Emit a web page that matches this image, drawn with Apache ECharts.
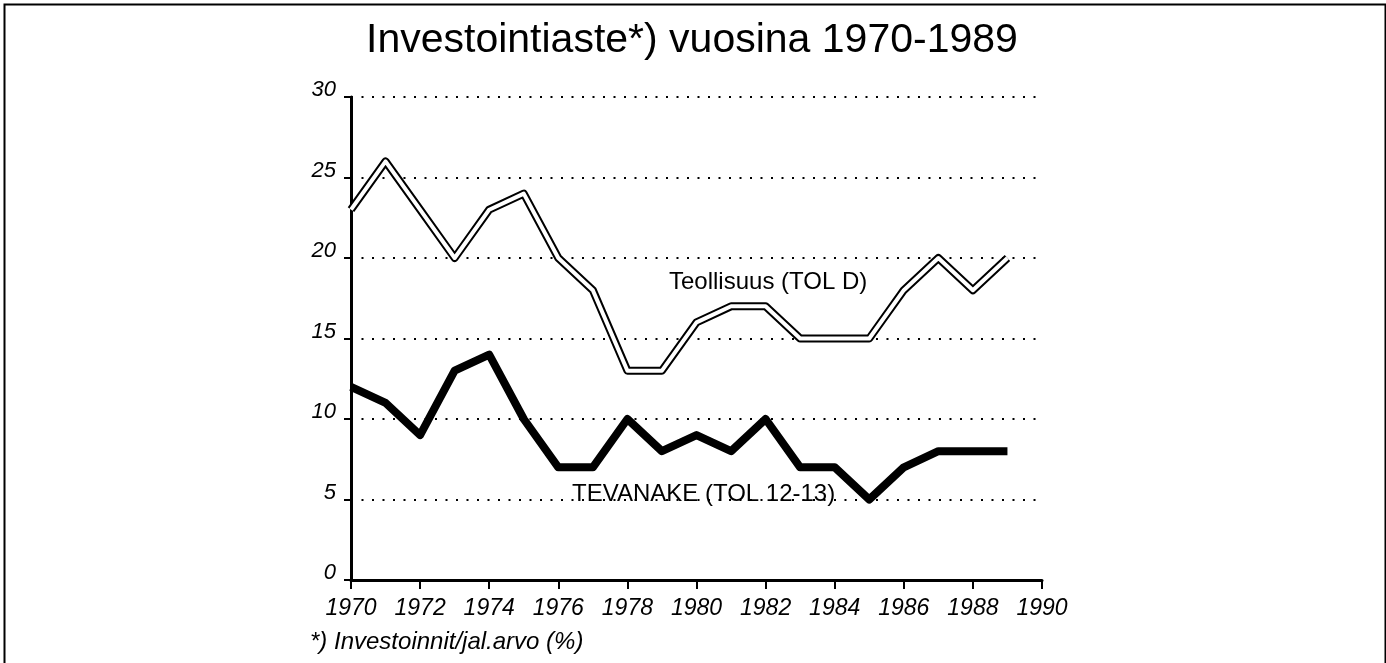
<!DOCTYPE html>
<html>
<head>
<meta charset="utf-8">
<script src="https://cdn.jsdelivr.net/npm/echarts@6/dist/echarts.min.js"></script>
<style>
  html, body { margin: 0; padding: 0; background: #fff; }
  #chart { width: 1386px; height: 663px; }
</style>
</head>
<body>
<div id="chart"></div>
<script>
const years = [1970, 1971, 1972, 1973, 1974, 1975, 1976, 1977, 1978, 1979,
  1980, 1981, 1982, 1983, 1984, 1985, 1986, 1987, 1988, 1989];
const teollisuus = [23, 26, 23, 20, 23, 24, 20, 18, 13, 13, 16, 17, 17, 15, 15, 15, 18, 20, 18, 20];
const tevanake = [12, 11, 9, 13, 14, 10, 7, 7, 10, 8, 9, 8, 10, 7, 7, 5, 7, 8, 8, 8];

const FONT = "'Liberation Sans', Arial, sans-serif";

(function () {
  const chart = echarts.init(document.getElementById("chart"));
  const pairs = (vals) => years.map((y, i) => [y, vals[i]]);

  chart.setOption({
    animation: false,
    backgroundColor: "#fff",
    title: {
      text: "Investointiaste*) vuosina 1970-1989",
      left: 361,
      top: 15,
      textStyle: { fontFamily: FONT, fontSize: 41, fontWeight: "normal", color: "#000" },
    },
    grid: { left: 351, right: 344, top: 97, bottom: 83 },
    xAxis: {
      type: "value",
      min: 1970,
      max: 1990,
      interval: 2,
      axisLine: { lineStyle: { color: "#000", width: 3 } },
      axisTick: { show: true, length: 9, lineStyle: { color: "#000", width: 2 } },
      axisLabel: {
        color: "#000", fontFamily: FONT, fontStyle: "italic", fontSize: 23, margin: 17,
        formatter: (v) => String(v),
      },
      splitLine: { show: false },
    },
    yAxis: {
      type: "value",
      min: 0,
      max: 30,
      interval: 5,
      axisLine: { show: true, lineStyle: { color: "#000", width: 3 } },
      axisTick: { show: true, length: 7, lineStyle: { color: "#000", width: 2 } },
      axisLabel: {
        color: "#000", fontFamily: FONT, fontStyle: "italic", fontSize: 22, margin: 15,
        verticalAlign: "bottom", lineHeight: 14,
      },
      splitLine: {
        show: true,
        showMinLine: false,
        lineStyle: { color: "#000", width: 2, type: [2, 8.5] },
      },
    },
    series: [
      {
        type: "line", data: pairs(teollisuus), symbol: "none",
        lineStyle: { color: "#000", width: 8, join: "round" }, z: 3,
      },
      {
        type: "line", data: pairs(teollisuus), symbol: "none",
        lineStyle: { color: "#fff", width: 4, join: "round" }, z: 4,
      },
      {
        type: "line", data: pairs(tevanake), symbol: "none",
        lineStyle: { color: "#000", width: 8, join: "round" }, z: 5,
      },
    ],
    graphic: [
      {
        type: "rect", left: 2, top: 2, z: 0,
        shape: { width: 1381, height: 670 },
        style: { fill: "none", stroke: "#000", lineWidth: 2 },
      },
      {
        type: "text", left: 669, top: 270, z: 10,
        style: { text: "Teollisuus (TOL D)", font: "24px " + FONT, fill: "#000" },
      },
      {
        type: "text", left: 572, top: 482, z: 10,
        style: { text: "TEVANAKE (TOL 12-13)", font: "24px " + FONT, fill: "#000" },
      },
      {
        type: "text", left: 310, top: 630, z: 10,
        style: { text: "*) Investoinnit/jal.arvo (%)", font: "italic 24px " + FONT, fill: "#000" },
      },
    ],
  });
})();
</script>
</body>
</html>
